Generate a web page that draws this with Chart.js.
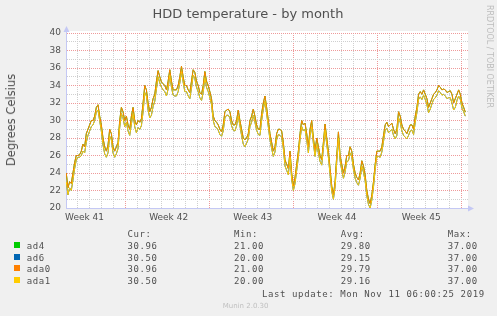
<!DOCTYPE html>
<html>
<head>
<meta charset="utf-8">
<script src="https://cdn.jsdelivr.net/npm/chart.js@4.4.1/dist/chart.umd.min.js"></script>
<style>
  body { margin: 0; background: #f0f0f0; }
  #wrap { position: relative; width: 497px; height: 316px; overflow: hidden;
          font-family: "DejaVu Sans", sans-serif; color: #505050; }
  canvas { position: absolute; left: 0; top: 0; }
  .t { position: absolute; white-space: nowrap; }
  .mono { font-family: "DejaVu Sans Mono", monospace; font-size: 9px;
          letter-spacing: 0.6px; line-height: 12px; }
  .swatch { position: absolute; width: 6px; height: 6px; }
</style>
</head>
<body>
<div id="wrap">
  <canvas id="c" width="497" height="316"></canvas>
  <div class="t" style="left:248px; top:5.8px; font-size:13px; line-height:16px; transform:translateX(-50%)">HDD temperature - by month</div>
  <div class="t" style="left:11.3px; top:120.3px; font-size:11.5px; line-height:14px; transform:translate(-50%,-50%) rotate(-90deg)">Degrees Celsius</div>
  <div class="t" style="left:483.5px; top:5px; font-size:8px; line-height:10px; writing-mode:vertical-rl; color:#bdbdbd">RRDTOOL / TOBI OETIKER</div>
  <div id="legend"></div>
  <div class="t mono" style="left:262px; top:287.6px">Last update: Mon Nov 11 06:00:25 2019</div>
  <div class="t" style="left:222.7px; top:301.8px; font-size:7px; line-height:9px; color:#c0c0c0">Munin 2.0.30</div>
</div>
<script>
// x is in days since Monday 00:00 of week 41; one sample every 200 minutes
const firstSampleDay = 2.083;
const sampleStepDays = 5 / 36;

const weekLabels = ["Week 41", "Week 42", "Week 43", "Week 44", "Week 45"];
const weekLabelDays = [3.6, 10.6, 17.6, 24.6, 31.6];

// ad4 and ada0 draw on top of each other in the picture, as do ad6 and ada1
const upperPair = [
  24.0, 22.3, 23.0, 22.8, 24.0, 25.2, 26.0, 26.0, 26.1, 26.5,
  27.3, 27.0, 28.5, 29.0, 29.5, 30.0, 30.0, 30.5, 31.5, 31.8,
  30.5, 29.5, 28.0, 27.0, 26.5, 27.2, 29.0, 28.5, 27.0, 26.5,
  27.0, 27.5, 30.0, 31.5, 31.0, 30.0, 30.5, 29.5, 29.0, 30.5,
  31.5, 30.0, 29.5, 30.0, 29.8, 30.2, 32.0, 34.0, 33.5, 32.0,
  31.0, 31.5, 32.5, 33.0, 34.5, 35.7, 35.0, 34.4, 34.2, 34.0,
  33.5, 34.5, 35.8, 34.5, 33.5, 33.5, 33.5, 34.0, 35.0, 36.2,
  35.0, 34.0, 34.0, 33.5, 33.2, 34.5, 35.8, 35.5, 34.5, 34.0,
  33.2, 33.0, 34.0, 35.6, 34.5, 34.0, 33.3, 32.5, 30.5, 30.0,
  29.8, 29.5, 29.0, 28.7, 29.5, 31.0, 31.2, 31.3, 31.0, 30.0,
  29.5, 29.5, 30.0, 31.2, 30.0, 29.0, 28.0, 27.8, 28.0, 28.5,
  30.0, 30.5, 31.3, 30.5, 29.5, 29.0, 29.0, 30.8, 32.0, 32.8,
  31.5, 30.0, 28.5, 27.5, 26.5, 27.0, 28.5, 29.0, 29.0, 28.8,
  27.5, 25.5, 25.0, 24.5, 26.5, 24.0, 22.5, 23.5, 25.0, 26.5,
  28.5, 30.0, 29.5, 29.7, 28.5, 27.0, 29.0, 30.0, 28.0, 26.5,
  28.0, 27.0, 26.0, 25.5, 27.5, 29.6, 28.0, 26.5, 24.5, 22.5,
  21.5, 23.0, 26.0, 28.7, 26.0, 25.0, 24.0, 24.8, 26.0, 26.0,
  27.0, 26.5, 25.0, 24.0, 23.5, 23.2, 24.0, 25.4, 24.8, 23.8,
  22.0, 21.0, 20.5, 21.5, 23.0, 25.0, 26.5, 26.5, 26.5, 27.0,
  28.3, 29.5, 29.8, 29.3, 29.5, 29.7, 29.0, 28.5, 29.0, 31.0,
  30.5, 29.5, 29.0, 28.8, 28.5, 29.0, 29.5, 29.5, 29.0, 30.5,
  31.5, 33.0, 33.3, 33.0, 33.5, 33.0, 32.5, 31.5, 32.0, 32.5,
  33.0, 33.2, 33.5, 34.0, 33.8, 33.5, 33.6, 33.5, 33.2, 33.3,
  33.4, 33.0, 32.0, 32.5, 33.0, 33.5, 33.0, 32.0, 31.5, 30.96
];

const lowerPair = [
  23.0, 21.5, 22.3, 22.0, 23.2, 24.5, 25.5, 25.8, 25.8, 26.0,
  26.5, 26.3, 27.5, 28.3, 28.8, 29.3, 29.5, 30.0, 31.0, 31.2,
  30.0, 28.8, 27.2, 26.2, 25.8, 26.3, 28.2, 27.8, 26.3, 25.8,
  26.2, 26.8, 29.2, 30.8, 30.3, 29.3, 29.8, 28.8, 28.3, 29.6,
  30.8, 29.3, 28.6, 29.2, 29.0, 29.4, 31.0, 33.2, 32.8, 31.2,
  30.3, 30.6, 31.6, 32.2, 33.6, 35.0, 34.3, 33.8, 33.5, 33.3,
  32.8, 33.6, 35.2, 33.8, 32.9, 32.8, 32.8, 33.3, 34.3, 35.6,
  34.4, 33.3, 33.3, 32.8, 32.5, 33.7, 35.2, 34.8, 33.8, 33.3,
  32.6, 32.3, 33.2, 34.9, 33.8, 33.3, 32.6, 31.8, 30.0, 29.3,
  29.2, 28.9, 28.4, 28.2, 28.8, 30.3, 30.6, 30.6, 30.3, 29.4,
  28.9, 28.8, 29.4, 30.5, 29.4, 28.3, 27.3, 27.0, 27.4, 27.9,
  29.3, 29.8, 30.6, 29.8, 28.9, 28.4, 28.3, 30.0, 31.3, 32.2,
  30.8, 29.3, 27.8, 26.8, 25.9, 26.4, 27.8, 28.4, 28.3, 28.1,
  26.8, 24.8, 24.3, 23.8, 25.8, 23.3, 22.0, 22.8, 24.3, 25.8,
  27.8, 29.3, 28.8, 29.0, 27.8, 26.3, 28.3, 29.3, 27.4, 25.9,
  27.3, 26.3, 25.3, 24.9, 26.8, 28.9, 27.3, 25.8, 23.8, 21.9,
  21.0, 22.4, 25.3, 28.0, 25.4, 24.3, 23.4, 24.1, 25.3, 25.4,
  26.3, 25.8, 24.4, 23.4, 22.9, 22.6, 23.4, 24.8, 24.1, 23.1,
  21.4, 20.4, 20.0, 20.9, 22.4, 24.4, 25.9, 25.9, 25.8, 26.4,
  27.6, 28.9, 29.1, 28.6, 28.8, 29.0, 28.3, 27.9, 28.3, 30.3,
  29.8, 28.8, 28.3, 28.1, 27.9, 28.3, 28.8, 28.9, 28.4, 29.8,
  30.9, 32.4, 32.7, 32.4, 32.9, 32.4, 31.8, 30.9, 31.3, 31.9,
  32.4, 32.6, 32.9, 33.4, 33.2, 32.9, 33.0, 32.8, 32.5, 32.6,
  32.6, 32.0, 31.2, 31.5, 32.3, 32.8, 32.4, 31.4, 31.0, 30.5
];

const seriesNames = ["ad4", "ad6", "ada0", "ada1"];
const seriesColors = ["#00cc00", "#0066b3", "#ff8000", "#ffcc00"];
const seriesTemps = [upperPair, lowerPair, upperPair, lowerPair];
const curValues = [30.96, 30.50, 30.96, 30.50];
const minValues = [21.00, 20.00, 21.00, 20.00];
const avgValues = [29.80, 29.15, 29.79, 29.16];
const maxValues = [37.00, 37.00, 37.00, 37.00];

const axisColor = "#c4c8f4";
const majorGrid = "#ee9a9a";
const minorGrid = "#cfcfcf";

// legend table under the graph
const legendEl = document.getElementById("legend");
const colX = [127.5, 234, 340.7, 447.7];
let html = ["Cur:", "Min:", "Avg:", "Max:"]
  .map((h, i) => `<div class="t mono" style="left:${colX[i]}px; top:227.9px">${h}</div>`)
  .join("");
seriesNames.forEach((name, r) => {
  const top = 239.7 + r * 11.8;
  html += `<div class="swatch" style="left:14px; top:${top + 2}px; background:${seriesColors[r]}"></div>`;
  html += `<div class="t mono" style="left:26.7px; top:${top}px">${name}</div>`;
  [curValues, minValues, avgValues, maxValues].forEach((col, i) => {
    html += `<div class="t mono" style="left:${colX[i]}px; top:${top}px">${col[r].toFixed(2)}</div>`;
  });
});
legendEl.innerHTML = html;

const xTickValues = [];
for (let d = 3; d <= 35; d++) xTickValues.push(d);
weekLabelDays.forEach((d) => xTickValues.push(d));
xTickValues.sort((a, b) => a - b);

const plotBackground = {
  id: "plotBackground",
  beforeDraw(chart) {
    const { ctx, chartArea: a } = chart;
    ctx.save();
    ctx.fillStyle = "#ffffff";
    ctx.fillRect(a.left, a.top - 2, a.right - a.left, a.bottom - a.top + 2);
    ctx.restore();
  },
};

const axisArrows = {
  id: "axisArrows",
  afterDraw(chart) {
    const { ctx, chartArea: a } = chart;
    const x0 = Math.round(a.left) + 0.5;
    const y0 = Math.round(a.bottom) + 0.5;
    ctx.save();
    ctx.strokeStyle = axisColor;
    ctx.fillStyle = axisColor;
    ctx.lineWidth = 1;
    ctx.beginPath();
    ctx.moveTo(x0, a.top);
    ctx.lineTo(x0, a.top - 3);
    ctx.moveTo(a.right, y0);
    ctx.lineTo(a.right + 2, y0);
    ctx.stroke();
    ctx.beginPath();
    ctx.moveTo(x0, a.top - 7);
    ctx.lineTo(x0 - 3, a.top - 1);
    ctx.lineTo(x0 + 3, a.top - 1);
    ctx.closePath();
    ctx.fill();
    ctx.beginPath();
    ctx.moveTo(a.right + 6, y0);
    ctx.lineTo(a.right, y0 - 3);
    ctx.lineTo(a.right, y0 + 3);
    ctx.closePath();
    ctx.fill();
    ctx.restore();
  },
};

const datasets = seriesNames.map((name, i) => ({
  label: name,
  data: seriesTemps[i].map((t, k) => ({ x: firstSampleDay + k * sampleStepDays, y: t })),
  borderColor: seriesColors[i],
  borderWidth: 1,
  pointRadius: 0,
  tension: 0,
  fill: false,
  order: seriesNames.length - 1 - i,
}));

new Chart(document.getElementById("c"), {
  type: "line",
  data: { datasets },
  options: {
    responsive: false,
    animation: false,
    devicePixelRatio: 1,
    layout: { padding: { left: 0, top: 33, right: 29, bottom: 92 } },
    plugins: { legend: { display: false }, tooltip: { enabled: false } },
    scales: {
      x: {
        type: "linear",
        min: 2.06,
        max: 35.5,
        afterBuildTicks: (s) => { s.ticks = xTickValues.map((v) => ({ value: v })); },
        afterFit: (s) => { s.height = 16; },
        grid: {
          drawTicks: false,
          lineWidth: 1,
          color: (c) => {
            const v = c.tick && c.tick.value;
            if (!Number.isInteger(v)) return "rgba(0,0,0,0)";
            return v % 7 === 0 ? majorGrid : minorGrid;
          },
        },
        border: { color: axisColor, width: 1, dash: [1, 1] },
        ticks: {
          autoSkip: false,
          maxRotation: 0,
          minRotation: 0,
          padding: 4,
          color: "#505050",
          font: { family: "DejaVu Sans", size: 9 },
          callback: (v) => {
            const i = weekLabelDays.indexOf(v);
            return i >= 0 ? weekLabels[i] : "";
          },
        },
      },
      y: {
        min: 20,
        max: 40,
        afterFit: (s) => { s.width = 66; },
        grid: {
          drawTicks: false,
          lineWidth: 1,
          color: (c) => {
            const v = c.tick && c.tick.value;
            if (v === 20) return "rgba(0,0,0,0)";
            return v % 2 === 0 ? majorGrid : minorGrid;
          },
        },
        border: { color: axisColor, width: 1, dash: [1, 1] },
        ticks: {
          stepSize: 1,
          autoSkip: false,
          padding: 5,
          color: "#505050",
          font: { family: "DejaVu Sans", size: 9 },
          callback: (v) => (v % 2 === 0 ? String(v) : ""),
        },
      },
    },
  },
  plugins: [plotBackground, axisArrows],
});
</script>
</body>
</html>
